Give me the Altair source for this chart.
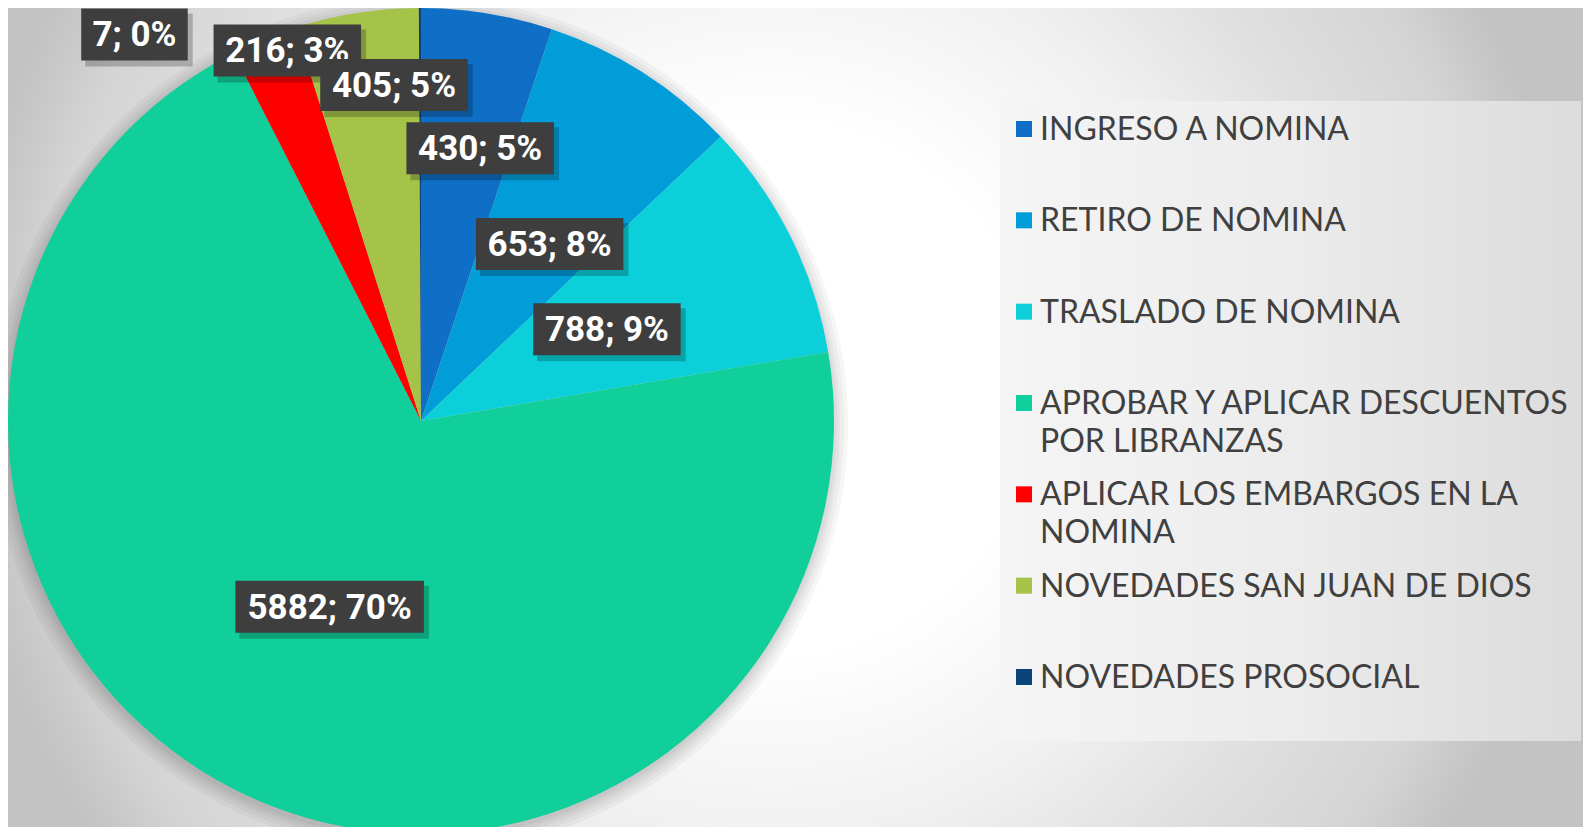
import math
import altair as alt
import pandas as pd

# ---------------- data ----------------
categorias = [
    "INGRESO A NOMINA",
    "RETIRO DE NOMINA",
    "TRASLADO DE NOMINA",
    "APROBAR Y APLICAR DESCUENTOS POR LIBRANZAS",
    "APLICAR LOS EMBARGOS EN LA NOMINA",
    "NOVEDADES SAN JUAN DE DIOS",
    "NOVEDADES PROSOCIAL",
]
valores = [430, 653, 788, 5882, 216, 405, 7]
leyenda = [
    "INGRESO A NOMINA",
    "RETIRO DE NOMINA",
    "TRASLADO DE NOMINA",
    "APROBAR Y APLICAR DESCUENTOS\nPOR LIBRANZAS",
    "APLICAR LOS EMBARGOS EN LA\nNOMINA",
    "NOVEDADES SAN JUAN DE DIOS",
    "NOVEDADES PROSOCIAL",
]

# ---------------- style / layout ----------------
colores = ["#0F6FC6", "#009DD9", "#0BD0D9", "#10CF9B", "#FF0000", "#A5C249", "#0A4478"]
W, H = 1575, 819
CX, CY, R = 413, 413, 413
# label placement: fraction of radius and angular nudge (degrees) per slice
LBL_R = [0.676, 0.53, 0.502, 0.501, 0.954, 0.816, 1.165]
LBL_TURN = [3.0, 3.5, 0.3, -0.5, 2.5, 4.4, -36.4]

df = pd.DataFrame({
    "cat": categorias,
    "valor": valores,
    "orden": list(range(len(categorias))),
    "leyenda": leyenda,
})
one = pd.DataFrame({"k": [0]})

color_scale = alt.Scale(domain=categorias, range=colores)

# background radial gradient
bg = alt.Chart(one).mark_rect(
    fill=alt.RadialGradient(
        gradient="radial",
        stops=[
            alt.GradientStop(color="#ffffff", offset=0.0),
            alt.GradientStop(color="#ffffff", offset=0.33),
            alt.GradientStop(color="#f0f0f0", offset=0.56),
            alt.GradientStop(color="#e0e0e0", offset=0.73),
            alt.GradientStop(color="#d4d4d4", offset=0.9),
            alt.GradientStop(color="#c8c8c8", offset=0.965),
            alt.GradientStop(color="#c3c3c3", offset=1.0),
        ],
        x1=0.5, y1=0.5, r1=0, x2=0.5, y2=0.5, r2=0.44,
    )
).encode(x=alt.value(-160), x2=alt.value(1680), y=alt.value(-540), y2=alt.value(1300))

# soft pie shadow
shadows = [
    alt.Chart(one).mark_arc(theta=0, theta2=2 * math.pi, radius=R + s, color="black", opacity=0.035)
    .encode(x=alt.value(CX - 1), y=alt.value(CY + 4))
    for s in (1, 4, 7, 11, 15)
]

pie = alt.Chart(df).mark_arc(radius=R).encode(
    theta=alt.Theta("valor:Q", stack=True),
    color=alt.Color("cat:N", scale=color_scale, legend=None),
    order=alt.Order("orden:Q"),
    x=alt.value(CX),
    y=alt.value(CY),
)

# label geometry derived from the data
turn_arr = "[" + ",".join(str(t) for t in LBL_TURN) + "]"
r_arr = "[" + ",".join(str(r) for r in LBL_R) + "]"
lab = (
    alt.Chart(df)
    .transform_joinaggregate(total="sum(valor)")
    .transform_window(cum="sum(valor)", sort=[alt.SortField("orden")], frame=[None, 0])
    .transform_calculate(
        mid=f"(datum.cum - datum.valor/2)/datum.total*2*PI + {turn_arr}[datum.orden]*PI/180",
        rr=f"{R}*{r_arr}[datum.orden]",
    )
    .transform_calculate(
        lx=f"{CX} + datum.rr*sin(datum.mid)",
        ly=f"{CY} - datum.rr*cos(datum.mid)",
        etiqueta="format(datum.valor, 'd') + '; ' + format(datum.valor/datum.total, '.0%')",
    )
    .transform_calculate(bw="20.5*length(datum.etiqueta) + 4")
    .transform_calculate(
        bx1="datum.lx - datum.bw/2",
        bx2="datum.lx + datum.bw/2",
        by1="datum.ly - 26",
        by2="datum.ly + 26",
        sx1="datum.lx - datum.bw/2 + 4",
        sx2="datum.lx + datum.bw/2 + 5",
        sy1="datum.ly - 26 + 5",
        sy2="datum.ly + 26 + 6",
    )
)

label_layers = []
for i in range(len(categorias)):
    sub = lab.transform_filter(f"datum.orden == {i}")
    label_layers.append(
        sub.mark_rect(color="black", opacity=0.22).encode(
            x=alt.X("sx1:Q", scale=None), x2="sx2:Q",
            y=alt.Y("sy1:Q", scale=None), y2="sy2:Q",
        )
    )
    label_layers.append(
        sub.mark_rect(color="#3e3e3e").encode(
            x=alt.X("bx1:Q", scale=None), x2="bx2:Q",
            y=alt.Y("by1:Q", scale=None), y2="by2:Q",
        )
    )
    label_layers.append(
        sub.mark_text(
            font="Roboto", fontWeight="bold", fontSize=35, color="white",
            align="center", baseline="middle", dy=1,
        ).encode(
            x=alt.X("lx:Q", scale=None),
            y=alt.Y("ly:Q", scale=None),
            text="etiqueta:N",
        )
    )

# legend panel
leg_bg = alt.Chart(one).mark_rect(
    fill=alt.LinearGradient(
        gradient="linear",
        stops=[
            alt.GradientStop(color="#f5f5f5", offset=0.0),
            alt.GradientStop(color="#ececec", offset=0.5),
            alt.GradientStop(color="#dcdcdc", offset=1.0),
        ],
        x1=0, x2=1, y1=0, y2=0,
    )
).encode(x=alt.value(992), x2=alt.value(1573), y=alt.value(93), y2=alt.value(733))

ley_y = alt.Y(
    "cat:N",
    sort=categorias,
    scale=alt.Scale(type="point", domain=categorias, range=[121, 669], padding=0),
    axis=None,
)
leg_sq = alt.Chart(df).mark_square(size=256, filled=True, opacity=1).encode(
    x=alt.value(1016),
    y=ley_y,
    color=alt.Color("cat:N", scale=color_scale, legend=None),
)
leg_txt = alt.Chart(df).mark_text(
    align="left", baseline="alphabetic", dy=11, font="Lato", fontSize=32,
    color="#404040", lineBreak="\n", lineHeight=38,
).encode(x=alt.value(1032), y=ley_y, text="leyenda:N")

chart = (
    alt.layer(bg, *shadows, pie, *label_layers, leg_bg, leg_sq, leg_txt)
    .resolve_scale(x="independent", y="independent")
    .properties(width=W, height=H, padding=0, autosize=alt.AutoSizeParams(type="none"))
    .configure_view(stroke=None)
)

chart.save("out.html", embed_options={"renderer": "svg", "actions": False})
